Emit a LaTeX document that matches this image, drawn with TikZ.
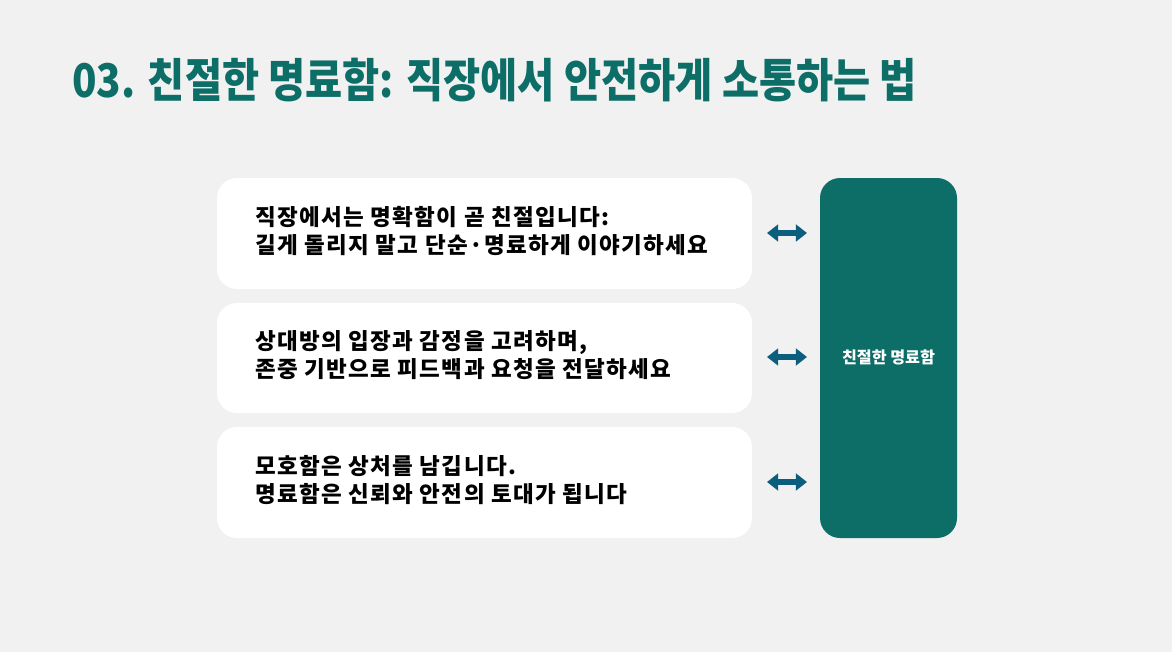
\documentclass[tikz,border=0pt]{standalone}
\usepackage{fontspec}
\newfontfamily\cjk{Noto Sans CJK KR}
\newfontfamily\cjkwide{Noto Sans CJK KR}[LetterSpace=6]
\usetikzlibrary{arrows.meta}

\definecolor{pagebg}{HTML}{F1F1F1}
\definecolor{tealdark}{HTML}{0D6E68}
\definecolor{arrowblue}{HTML}{0B5F7D}

\tikzset{
  msgbox/.style={fill=white, rounded corners=0.5cm},
  msgtext/.style={anchor=west, align=left, inner sep=0pt,
    font=\cjkwide\bfseries\fontsize{16}{20.5}\selectfont},
  linkarrow/.style={arrowblue, line width=0.14cm,
    {Triangle[length=0.28cm,width=0.42cm]}-{Triangle[length=0.28cm,width=0.42cm]}}
}

\begin{document}
\begin{tikzpicture}[x=0.025cm, y=-0.025cm]
        % === BACKGROUND ===
        \fill[pagebg] (0,0) rectangle (1172,652);
        \useasboundingbox (0,0) rectangle (1172,652);

        % === TITLE ===
        \node[anchor=west, inner sep=0pt, text=tealdark, xscale=0.87,
              font=\cjk\bfseries\fontsize{33}{38}\selectfont] (title) at (72,80)
            {03. 친절한 명료함: 직장에서 안전하게 소통하는 법};

        % === MESSAGE BOXES ===
        \fill[msgbox] (217,178) rectangle (752,289);
        \fill[msgbox] (217,303) rectangle (752,413);
        \fill[msgbox] (217,427) rectangle (752,538);

        \node[msgtext] (clear) at (255,231)
            {직장에서는 명확함이 곧 친절입니다:\\길게 돌리지 말고 단순·명료하게 이야기하세요};
        \node[msgtext] (respect) at (255,355)
            {상대방의 입장과 감정을 고려하며,\\존중 기반으로 피드백과 요청을 전달하세요};
        \node[msgtext] (trust) at (255,480)
            {모호함은 상처를 남깁니다.\\명료함은 신뢰와 안전의 토대가 됩니다};

        % === CENTRAL BOX ===
        \fill[tealdark, rounded corners=0.5cm] (820,178) rectangle (957,538);
        \node[text=white, font=\cjk\bfseries\fontsize{11.5}{14}\selectfont] (kind) at (888.5,357)
            {친절한 명료함};

        % === LINKS ===
        \coordinate (a1) at (767,233);  \coordinate (b1) at (807,233);
        \coordinate (a2) at (767,357);  \coordinate (b2) at (807,357);
        \coordinate (a3) at (767,482);  \coordinate (b3) at (807,482);
        \foreach \i in {1,2,3}
            \draw[linkarrow] (a\i) -- (b\i);

    \end{tikzpicture}
\end{document}
